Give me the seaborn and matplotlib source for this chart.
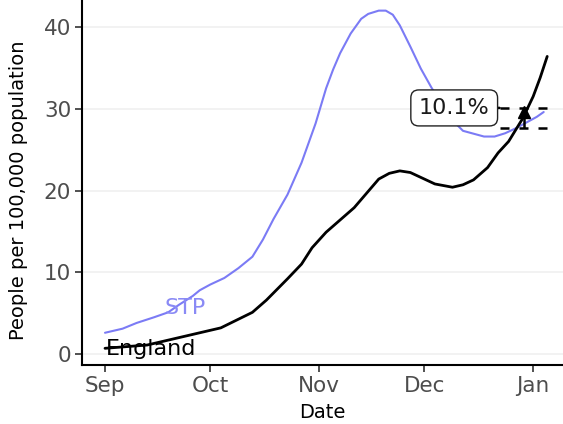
#!/usr/bin/env python3

"""Hospital occupancy per 100,000: local STP against England."""

import matplotlib.dates as mdates
import matplotlib.pyplot as plt
import pandas as pd
import seaborn as sns

sns.set_theme(style="white")
plt.rcParams["font.family"] = ["DejaVu Sans"]

# values
stp_dates = [
    "2020-09-01", "2020-09-06", "2020-09-10", "2020-09-15", "2020-09-19",
    "2020-09-22", "2020-09-26", "2020-09-28", "2020-10-01", "2020-10-05",
    "2020-10-09", "2020-10-13", "2020-10-16", "2020-10-19", "2020-10-23",
    "2020-10-27", "2020-10-31", "2020-11-03", "2020-11-05", "2020-11-07",
    "2020-11-10", "2020-11-13", "2020-11-15", "2020-11-18", "2020-11-20",
    "2020-11-22", "2020-11-24", "2020-11-27", "2020-11-30", "2020-12-03",
    "2020-12-06", "2020-12-09", "2020-12-12", "2020-12-18", "2020-12-21",
    "2020-12-24", "2020-12-27", "2020-12-30", "2021-01-02", "2021-01-04",
]
stp_values = [
    2.6, 3.1, 3.8, 4.5, 5.1,
    6.0, 7.1, 7.8, 8.5, 9.3,
    10.5, 11.9, 14.0, 16.5, 19.5,
    23.4, 28.2, 32.5, 34.8, 36.8,
    39.2, 41.0, 41.6, 42.0, 42.0,
    41.5, 40.2, 37.6, 34.9, 32.6,
    30.5, 28.6, 27.3, 26.6, 26.6,
    27.0, 27.6, 28.3, 29.0, 29.6,
]

eng_dates = [
    "2020-09-01", "2020-09-13", "2020-09-22", "2020-10-04", "2020-10-13",
    "2020-10-17", "2020-10-23", "2020-10-27", "2020-10-30", "2020-11-03",
    "2020-11-07", "2020-11-11", "2020-11-15", "2020-11-18", "2020-11-21",
    "2020-11-24", "2020-11-27", "2020-11-30", "2020-12-04", "2020-12-09",
    "2020-12-12", "2020-12-15", "2020-12-19", "2020-12-22", "2020-12-25",
    "2020-12-29", "2021-01-01", "2021-01-03", "2021-01-05",
]
eng_values = [
    0.7, 1.1, 2.0, 3.2, 5.1,
    6.6, 9.2, 11.0, 13.0, 14.9,
    16.4, 17.9, 19.9, 21.4, 22.1,
    22.4, 22.2, 21.6, 20.8, 20.4,
    20.7, 21.3, 22.8, 24.6, 26.0,
    28.8, 31.5, 33.8, 36.4,
]

point_date = "2020-12-29 10:00"
point_value = 29.6
point_low, point_high = 27.6, 30.1
point_label = "10.1%"


def main():
    stp = pd.DataFrame({"date": pd.to_datetime(stp_dates), "value": stp_values})
    eng = pd.DataFrame({"date": pd.to_datetime(eng_dates), "value": eng_values})

    fig = plt.figure(figsize=(5.63, 4.24), dpi=100)
    ax = fig.add_axes([0.146, 0.139, 0.854, 0.861])

    for y in (0, 10, 20, 30, 40):
        ax.axhline(y, color="#f0f0f0", lw=1.2, zorder=0)

    sns.lineplot(data=stp, x="date", y="value", ax=ax, color="#7b7bf5", lw=1.5)
    sns.lineplot(data=eng, x="date", y="value", ax=ax, color="black", lw=2)

    px = pd.Timestamp(point_date)
    half = pd.Timedelta(days=7)
    ax.hlines([point_low, point_high], px - half, px + half,
              colors="black", lw=1.8, linestyles=(0, (3.6, 4)))
    ax.vlines(px, point_low, point_value, colors="black", lw=1.8)
    ax.plot([px], [point_value], marker="^", color="black", ms=9)

    ax.annotate(point_label, xy=(px - half, point_high),
                xytext=(pd.Timestamp("2020-12-09 12:00"), point_high),
                ha="center", va="center", fontsize=16, color="#1a1a1a",
                bbox=dict(boxstyle="round,pad=0.36", fc="white", ec="#222222", lw=1),
                arrowprops=dict(arrowstyle="-", color="black", lw=1.8))

    ax.text(pd.Timestamp("2020-09-23 18:00"), 5.6, "STP", color="#8a8af5",
            fontsize=16, ha="center", va="center")
    ax.text(pd.Timestamp("2020-09-14"), 0.6, "England", color="black",
            fontsize=16, ha="center", va="center")

    ax.set_xlim(pd.Timestamp("2020-08-25 12:00"), pd.Timestamp("2021-01-09 12:00"))
    ax.set_ylim(-1.35, 43.3)
    ax.set_yticks([0, 10, 20, 30, 40])
    ax.xaxis.set_major_locator(mdates.MonthLocator())
    ax.xaxis.set_major_formatter(mdates.DateFormatter("%b"))

    ax.set_xlabel("Date", fontsize=14, color="black", labelpad=5)
    ax.set_ylabel("People per 100,000 population", fontsize=14, color="black")
    ax.yaxis.set_label_coords(-0.112, 0.48)
    ax.tick_params(axis="both", labelsize=15.5, labelcolor="#4d4d4d", length=5,
                   width=1.2, color="#333333", bottom=True, left=True, pad=3)

    sns.despine(ax=ax, top=True, right=True)
    for side in ("left", "bottom"):
        ax.spines[side].set_color("black")
        ax.spines[side].set_linewidth(1.5)

    fig.savefig("out.png", dpi=100)
    plt.close(fig)


if __name__ == "__main__":
    main()
